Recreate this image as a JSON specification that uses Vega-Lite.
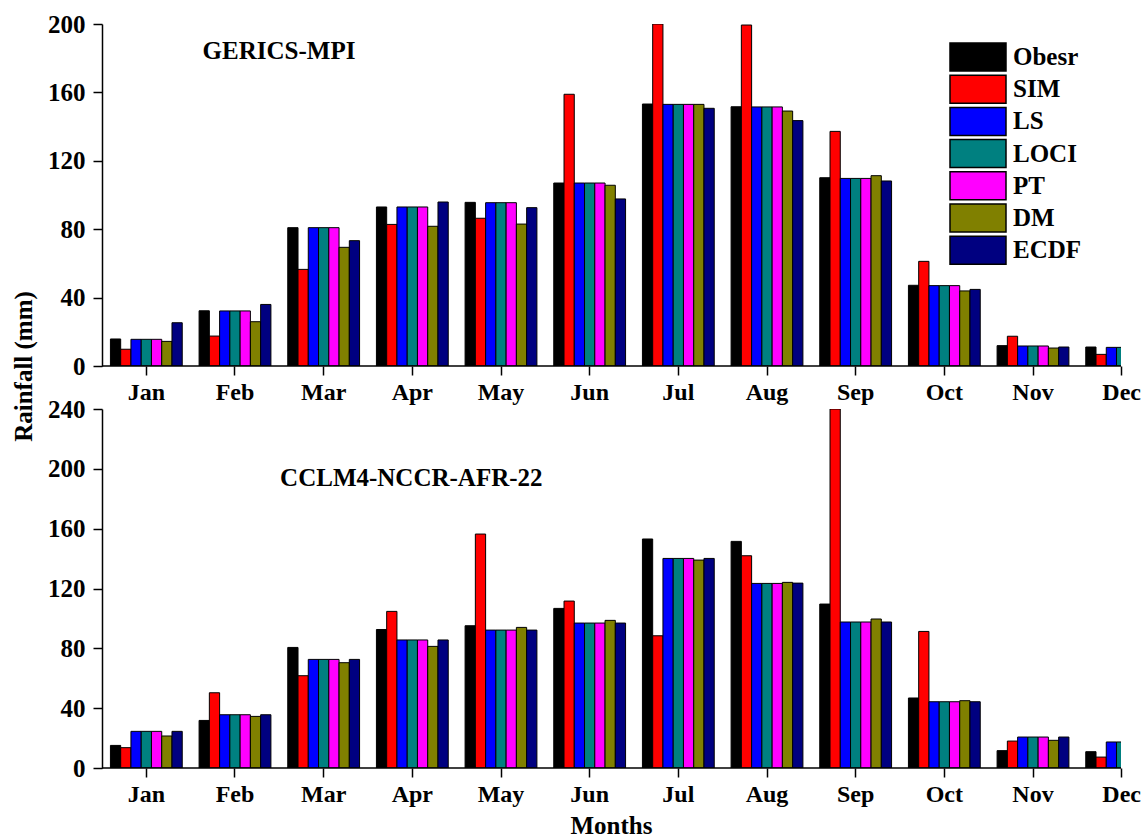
{
  "$schema": "https://vega.github.io/schema/vega-lite/v6.json",
  "padding": {"left": 11, "top": 12, "right": 0, "bottom": 0},
  "background": "white",
  "bounds": "flush",
  "spacing": 43,
  "datasets": {
    "top": [
      {"month":"Jan","method":"Obesr","value":15.8},{"month":"Jan","method":"SIM","value":9.8},{"month":"Jan","method":"LS","value":15.6},{"month":"Jan","method":"LOCI","value":15.6},{"month":"Jan","method":"PT","value":15.6},{"month":"Jan","method":"DM","value":14.4},{"month":"Jan","method":"ECDF","value":25.3},
      {"month":"Feb","method":"Obesr","value":32.3},{"month":"Feb","method":"SIM","value":17.5},{"month":"Feb","method":"LS","value":32.2},{"month":"Feb","method":"LOCI","value":32.2},{"month":"Feb","method":"PT","value":32.2},{"month":"Feb","method":"DM","value":25.9},{"month":"Feb","method":"ECDF","value":36},
      {"month":"Mar","method":"Obesr","value":80.9},{"month":"Mar","method":"SIM","value":56.5},{"month":"Mar","method":"LS","value":80.9},{"month":"Mar","method":"LOCI","value":80.9},{"month":"Mar","method":"PT","value":80.9},{"month":"Mar","method":"DM","value":69.4},{"month":"Mar","method":"ECDF","value":73.3},
      {"month":"Apr","method":"Obesr","value":93},{"month":"Apr","method":"SIM","value":82.8},{"month":"Apr","method":"LS","value":93},{"month":"Apr","method":"LOCI","value":93},{"month":"Apr","method":"PT","value":93},{"month":"Apr","method":"DM","value":81.7},{"month":"Apr","method":"ECDF","value":95.9},
      {"month":"May","method":"Obesr","value":95.7},{"month":"May","method":"SIM","value":86.4},{"month":"May","method":"LS","value":95.5},{"month":"May","method":"LOCI","value":95.5},{"month":"May","method":"PT","value":95.5},{"month":"May","method":"DM","value":83},{"month":"May","method":"ECDF","value":92.6},
      {"month":"Jun","method":"Obesr","value":107},{"month":"Jun","method":"SIM","value":158.9},{"month":"Jun","method":"LS","value":107},{"month":"Jun","method":"LOCI","value":107},{"month":"Jun","method":"PT","value":107},{"month":"Jun","method":"DM","value":105.7},{"month":"Jun","method":"ECDF","value":97.7},
      {"month":"Jul","method":"Obesr","value":153.2},{"month":"Jul","method":"SIM","value":200},{"month":"Jul","method":"LS","value":153},{"month":"Jul","method":"LOCI","value":153},{"month":"Jul","method":"PT","value":153},{"month":"Jul","method":"DM","value":153},{"month":"Jul","method":"ECDF","value":150.7},
      {"month":"Aug","method":"Obesr","value":151.6},{"month":"Aug","method":"SIM","value":199.4},{"month":"Aug","method":"LS","value":151.5},{"month":"Aug","method":"LOCI","value":151.5},{"month":"Aug","method":"PT","value":151.5},{"month":"Aug","method":"DM","value":149.1},{"month":"Aug","method":"ECDF","value":143.5},
      {"month":"Sep","method":"Obesr","value":110.1},{"month":"Sep","method":"SIM","value":137.2},{"month":"Sep","method":"LS","value":109.7},{"month":"Sep","method":"LOCI","value":109.7},{"month":"Sep","method":"PT","value":109.7},{"month":"Sep","method":"DM","value":111.3},{"month":"Sep","method":"ECDF","value":108.2},
      {"month":"Oct","method":"Obesr","value":47.2},{"month":"Oct","method":"SIM","value":61.2},{"month":"Oct","method":"LS","value":47},{"month":"Oct","method":"LOCI","value":47},{"month":"Oct","method":"PT","value":47},{"month":"Oct","method":"DM","value":43.9},{"month":"Oct","method":"ECDF","value":44.8},
      {"month":"Nov","method":"Obesr","value":11.9},{"month":"Nov","method":"SIM","value":17.4},{"month":"Nov","method":"LS","value":11.7},{"month":"Nov","method":"LOCI","value":11.7},{"month":"Nov","method":"PT","value":11.7},{"month":"Nov","method":"DM","value":10.5},{"month":"Nov","method":"ECDF","value":11.1},
      {"month":"Dec","method":"Obesr","value":11.1},{"month":"Dec","method":"SIM","value":6.8},{"month":"Dec","method":"LS","value":10.9},{"month":"Dec","method":"LOCI","value":10.9},{"month":"Dec","method":"PT","value":10.9},{"month":"Dec","method":"DM","value":10},{"month":"Dec","method":"ECDF","value":10.5}
    ],
    "bottom": [
      {"month":"Jan","method":"Obesr","value":15.1},{"month":"Jan","method":"SIM","value":13.6},{"month":"Jan","method":"LS","value":24.5},{"month":"Jan","method":"LOCI","value":24.5},{"month":"Jan","method":"PT","value":24.5},{"month":"Jan","method":"DM","value":21.4},{"month":"Jan","method":"ECDF","value":24.5},
      {"month":"Feb","method":"Obesr","value":31.8},{"month":"Feb","method":"SIM","value":50.3},{"month":"Feb","method":"LS","value":35.6},{"month":"Feb","method":"LOCI","value":35.6},{"month":"Feb","method":"PT","value":35.6},{"month":"Feb","method":"DM","value":34.5},{"month":"Feb","method":"ECDF","value":35.6},
      {"month":"Mar","method":"Obesr","value":80.6},{"month":"Mar","method":"SIM","value":61.7},{"month":"Mar","method":"LS","value":72.6},{"month":"Mar","method":"LOCI","value":72.6},{"month":"Mar","method":"PT","value":72.6},{"month":"Mar","method":"DM","value":70.4},{"month":"Mar","method":"ECDF","value":72.6},
      {"month":"Apr","method":"Obesr","value":92.6},{"month":"Apr","method":"SIM","value":104.7},{"month":"Apr","method":"LS","value":85.6},{"month":"Apr","method":"LOCI","value":85.6},{"month":"Apr","method":"PT","value":85.6},{"month":"Apr","method":"DM","value":81.3},{"month":"Apr","method":"ECDF","value":85.6},
      {"month":"May","method":"Obesr","value":95.1},{"month":"May","method":"SIM","value":156.4},{"month":"May","method":"LS","value":92.2},{"month":"May","method":"LOCI","value":92.2},{"month":"May","method":"PT","value":92.2},{"month":"May","method":"DM","value":94},{"month":"May","method":"ECDF","value":92.2},
      {"month":"Jun","method":"Obesr","value":106.7},{"month":"Jun","method":"SIM","value":111.6},{"month":"Jun","method":"LS","value":96.9},{"month":"Jun","method":"LOCI","value":96.9},{"month":"Jun","method":"PT","value":96.9},{"month":"Jun","method":"DM","value":98.7},{"month":"Jun","method":"ECDF","value":96.9},
      {"month":"Jul","method":"Obesr","value":153.1},{"month":"Jul","method":"SIM","value":88.4},{"month":"Jul","method":"LS","value":140.1},{"month":"Jul","method":"LOCI","value":140.1},{"month":"Jul","method":"PT","value":140.1},{"month":"Jul","method":"DM","value":139},{"month":"Jul","method":"ECDF","value":140.1},
      {"month":"Aug","method":"Obesr","value":151.5},{"month":"Aug","method":"SIM","value":141.9},{"month":"Aug","method":"LS","value":123.4},{"month":"Aug","method":"LOCI","value":123.4},{"month":"Aug","method":"PT","value":123.4},{"month":"Aug","method":"DM","value":124.1},{"month":"Aug","method":"ECDF","value":123.6},
      {"month":"Sep","method":"Obesr","value":109.6},{"month":"Sep","method":"SIM","value":240},{"month":"Sep","method":"LS","value":97.6},{"month":"Sep","method":"LOCI","value":97.6},{"month":"Sep","method":"PT","value":97.6},{"month":"Sep","method":"DM","value":99.6},{"month":"Sep","method":"ECDF","value":97.6},
      {"month":"Oct","method":"Obesr","value":46.8},{"month":"Oct","method":"SIM","value":91.3},{"month":"Oct","method":"LS","value":44.3},{"month":"Oct","method":"LOCI","value":44.3},{"month":"Oct","method":"PT","value":44.3},{"month":"Oct","method":"DM","value":45},{"month":"Oct","method":"ECDF","value":44.3},
      {"month":"Nov","method":"Obesr","value":11.6},{"month":"Nov","method":"SIM","value":18},{"month":"Nov","method":"LS","value":20.7},{"month":"Nov","method":"LOCI","value":20.7},{"month":"Nov","method":"PT","value":20.7},{"month":"Nov","method":"DM","value":18.5},{"month":"Nov","method":"ECDF","value":20.7},
      {"month":"Dec","method":"Obesr","value":10.9},{"month":"Dec","method":"SIM","value":7.3},{"month":"Dec","method":"LS","value":17.4},{"month":"Dec","method":"LOCI","value":17.4},{"month":"Dec","method":"PT","value":17.4},{"month":"Dec","method":"DM","value":16},{"month":"Dec","method":"ECDF","value":17.4}
    ]
  },
  "vconcat": [
    {
      "width": 1019,
      "height": 342,
      "layer": [
        {
          "data": {"name": "top"},
          "mark": {"type": "bar", "stroke": "black", "strokeWidth": 1, "clip": true},
          "encoding": {
            "x": {"field": "month", "type": "nominal", "sort": ["Jan","Feb","Mar","Apr","May","Jun","Jul","Aug","Sep","Oct","Nov","Dec"],
                  "scale": {"range": [0, 1064], "paddingInner": 0.19, "paddingOuter": 0.095},
                  "axis": {"title": null, "domain": false, "labelAngle": 0}},
            "xOffset": {"field": "method", "type": "nominal", "sort": ["Obesr","SIM","LS","LOCI","PT","DM","ECDF"]},
            "y": {"field": "value", "type": "quantitative", "scale": {"domain": [0, 200], "nice": false},
                  "axis": {"values": [0,40,80,120,160,200], "title": "Rainfall (mm)", "titleX": -79, "titleY": 342, "titleBaseline": "middle", "titleAngle": -90}},
            "color": {"field": "method", "type": "nominal",
                      "scale": {"domain": ["Obesr","SIM","LS","LOCI","PT","DM","ECDF"], "range": ["#000000","#FF0000","#0000FF","#008080","#FF00FF","#808000","#000080"]},
                      "legend": {"title": null, "orient": "none", "legendX": 861, "legendY": 18, "symbolType": "M-2,-1H2V1H-2Z", "symbolSize": 784, "symbolStrokeColor": "black", "symbolStrokeWidth": 1.5, "symbolOpacity": 1, "labelFont": "Liberation Serif", "labelFontWeight": "bold", "labelFontSize": 25, "labelColor": "black", "labelOffset": 20, "rowPadding": -1.8, "padding": 0}}
          }
        },
        {
          "data": {"values": [{"label": "GERICS-MPI"}]},
          "mark": {"type": "text", "font": "Liberation Serif", "fontWeight": "bold", "fontSize": 25, "color": "black", "align": "center", "baseline": "middle", "dx": 44},
          "encoding": {"text": {"field": "label"}, "x": {"datum": "Feb", "type": "nominal"}, "y": {"datum": 184, "type": "quantitative"}}
        },
        {
          "data": {"values": [{"base": 0}]},
          "mark": {"type": "rule", "color": "black", "strokeWidth": 1.5},
          "encoding": {"y": {"field": "base", "type": "quantitative"}}
        }
      ]
    },
    {
      "width": 1019,
      "height": 359,
      "layer": [
        {
          "data": {"name": "bottom"},
          "mark": {"type": "bar", "stroke": "black", "strokeWidth": 1, "clip": true},
          "encoding": {
            "x": {"field": "month", "type": "nominal", "sort": ["Jan","Feb","Mar","Apr","May","Jun","Jul","Aug","Sep","Oct","Nov","Dec"],
                  "scale": {"range": [0, 1064], "paddingInner": 0.19, "paddingOuter": 0.095},
                  "axis": {"title": "Months", "domain": false, "labelAngle": 0, "titleX": 509, "titleY": 57, "titleBaseline": "middle"}},
            "xOffset": {"field": "method", "type": "nominal", "sort": ["Obesr","SIM","LS","LOCI","PT","DM","ECDF"]},
            "y": {"field": "value", "type": "quantitative", "scale": {"domain": [0, 240], "nice": false},
                  "axis": {"values": [0,40,80,120,160,200,240], "title": null}},
            "color": {"field": "method", "type": "nominal",
                      "scale": {"domain": ["Obesr","SIM","LS","LOCI","PT","DM","ECDF"], "range": ["#000000","#FF0000","#0000FF","#008080","#FF00FF","#808000","#000080"]}}
          }
        },
        {
          "data": {"values": [{"label": "CCLM4-NCCR-AFR-22"}]},
          "mark": {"type": "text", "font": "Liberation Serif", "fontWeight": "bold", "fontSize": 25, "color": "black", "align": "center", "baseline": "middle", "dx": -1},
          "encoding": {"text": {"field": "label"}, "x": {"datum": "Apr", "type": "nominal"}, "y": {"datum": 194, "type": "quantitative"}}
        },
        {
          "data": {"values": [{"base": 0}]},
          "mark": {"type": "rule", "color": "black", "strokeWidth": 1.5},
          "encoding": {"y": {"field": "base", "type": "quantitative"}}
        }
      ]
    }
  ],
  "config": {
    "font": "Liberation Serif",
    "view": {"stroke": null},
    "axis": {
      "labelFont": "Liberation Serif", "labelFontWeight": "bold", "labelFontSize": 24, "labelColor": "black",
      "titleFont": "Liberation Serif", "titleFontWeight": "bold", "titleFontSize": 25, "titleColor": "black",
      "domainColor": "black", "domainWidth": 1.5, "tickColor": "black", "tickWidth": 1.5, "tickSize": 9,
      "grid": false, "labelPadding": 8
    },
    "axisY": {"labelFontSize": 25},
    "axisX": {"labelPadding": 5}
  }
}
